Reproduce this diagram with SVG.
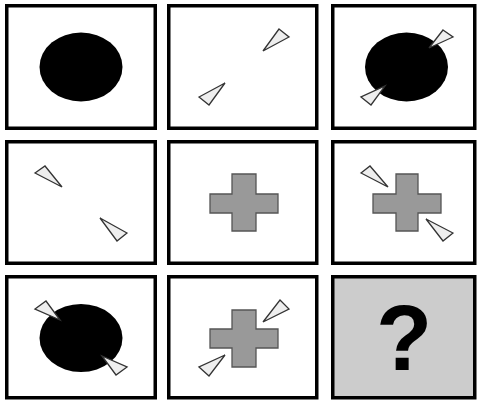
<svg xmlns="http://www.w3.org/2000/svg" width="477" height="401" viewBox="0 0 477 401">
<style>
.box{fill:#fff;stroke:#000;stroke-width:3.5}
.q{fill:#cccccc;stroke:#000;stroke-width:3.5}
.blob{fill:#000}
.tri{fill:#eeeeee;stroke:#333;stroke-width:1.3;stroke-linejoin:miter}
.cross{fill:#999999;stroke:#555;stroke-width:1.3}
</style>
<rect width="477" height="401" fill="#fff"/>
<g id="cell1">
<rect class="box" x="6.75" y="5.75" width="148.5" height="122.5"/>
<ellipse class="blob" cx="81" cy="67" rx="41.5" ry="34.5"/>
</g>
<g id="cell2">
<rect class="box" x="168.75" y="5.75" width="148" height="122.5"/>
<polygon class="tri" points="279,29 289,37 263,51"/>
<polygon class="tri" points="199,97 209,105 225,83"/>
</g>
<g id="cell3">
<rect class="box" x="332.75" y="5.75" width="142" height="122.5"/>
<ellipse class="blob" cx="406.5" cy="67" rx="41.5" ry="34.5"/>
<polygon class="tri" points="443,30 453,37 429,48"/>
<polygon class="tri" points="361,97 371,105 385,86"/>
</g>
<g id="cell4">
<rect class="box" x="6.75" y="141.75" width="148.5" height="121.5"/>
<polygon class="tri" points="35,173 45,166 62,187"/>
<polygon class="tri" points="127,233 117,241 100,218"/>
</g>
<g id="cell5">
<rect class="box" x="168.75" y="141.75" width="148" height="121.5"/>
<polygon class="cross" points="232,174 256,174 256,194 278,194 278,213 256,213 256,231 232,231 232,213 210,213 210,194 232,194"/>
</g>
<g id="cell6">
<rect class="box" x="332.75" y="141.75" width="142" height="121.5"/>
<polygon class="cross" points="396,174 418,174 418,194 441,194 441,213 418,213 418,231 396,231 396,213 373,213 373,194 396,194"/>
<polygon class="tri" points="361,173 370,166 388,187"/>
<polygon class="tri" points="453,233 443,241 426,219"/>
</g>
<g id="cell7">
<rect class="box" x="6.75" y="276.75" width="148.5" height="121"/>
<ellipse class="blob" cx="81" cy="338" rx="41.5" ry="34"/>
<polygon class="tri" points="35,309 46,301 60,320"/>
<polygon class="tri" points="127,367 116,375 102,356"/>
</g>
<g id="cell8">
<rect class="box" x="168.75" y="276.75" width="148" height="121"/>
<polygon class="cross" points="232,310 256,310 256,329 278,329 278,348 256,348 256,367 232,367 232,348 210,348 210,329 232,329"/>
<polygon class="tri" points="280,300 289,309 263,322"/>
<polygon class="tri" points="199,367 209,376 225,355"/>
</g>
<g id="cell9">
<rect class="q" x="332.75" y="276.75" width="142" height="121"/>
<text x="404" y="370" font-family="Liberation Sans, Arial, sans-serif" font-size="92" font-weight="bold" text-anchor="middle" fill="#000">?</text>
</g>
<g id="connectors"/>
</svg>
